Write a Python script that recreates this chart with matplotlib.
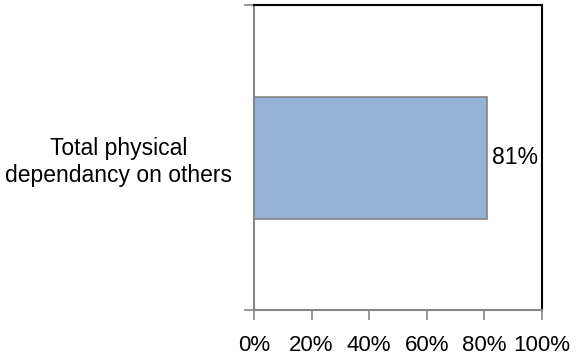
import matplotlib
matplotlib.use("Agg")
import matplotlib.pyplot as plt
from matplotlib.ticker import FuncFormatter

plt.rcParams['font.family'] = ['Liberation Sans', 'DejaVu Sans']

categories = ["Total physical\ndependancy on others"]
values = [81]
x_ticks = [0, 20, 40, 60, 80, 100]

fig = plt.figure(figsize=(5.82, 3.62), dpi=100)
ax = fig.add_axes([0.4364, 0.1436, 0.4949, 0.8426])

bars = ax.barh(range(len(categories)), values, height=0.4,
               color="#95B3D7", edgecolor="#868686", linewidth=1.2)
for b, v in zip(bars, values):
    ax.text(b.get_width() + 1.5, b.get_y() + b.get_height() / 2, f"{v}%",
            va="center", ha="left", fontsize=16.5, color="black")

ax.set_xlim(0, 100)
ax.set_ylim(-0.5, 0.5)
ax.set_xticks(x_ticks)
ax.xaxis.set_major_formatter(FuncFormatter(lambda v, p: f"{v:.0f}%"))
ax.set_yticks([-0.5, 0.5], minor=False)
ax.set_yticklabels(["", ""])
ax.set_yticks([0], minor=True)
ax.set_yticklabels(categories, minor=True, multialignment="center")
ax.tick_params(axis="y", which="minor", length=0, pad=16, labelsize=16.5)
ax.tick_params(axis="y", which="major", length=7, color="#868686", width=1.2)
ax.tick_params(axis="x", length=7, color="#868686", width=1.2, labelsize=16, pad=11)

ax.spines["left"].set_color("#868686")
ax.spines["bottom"].set_color("#868686")
ax.spines["left"].set_linewidth(1.5)
ax.spines["bottom"].set_linewidth(1.5)
ax.spines["top"].set_color("black")
ax.spines["right"].set_color("black")
ax.spines["top"].set_linewidth(1.5)
ax.spines["right"].set_linewidth(1.5)

fig.savefig("out.png", dpi=100)
